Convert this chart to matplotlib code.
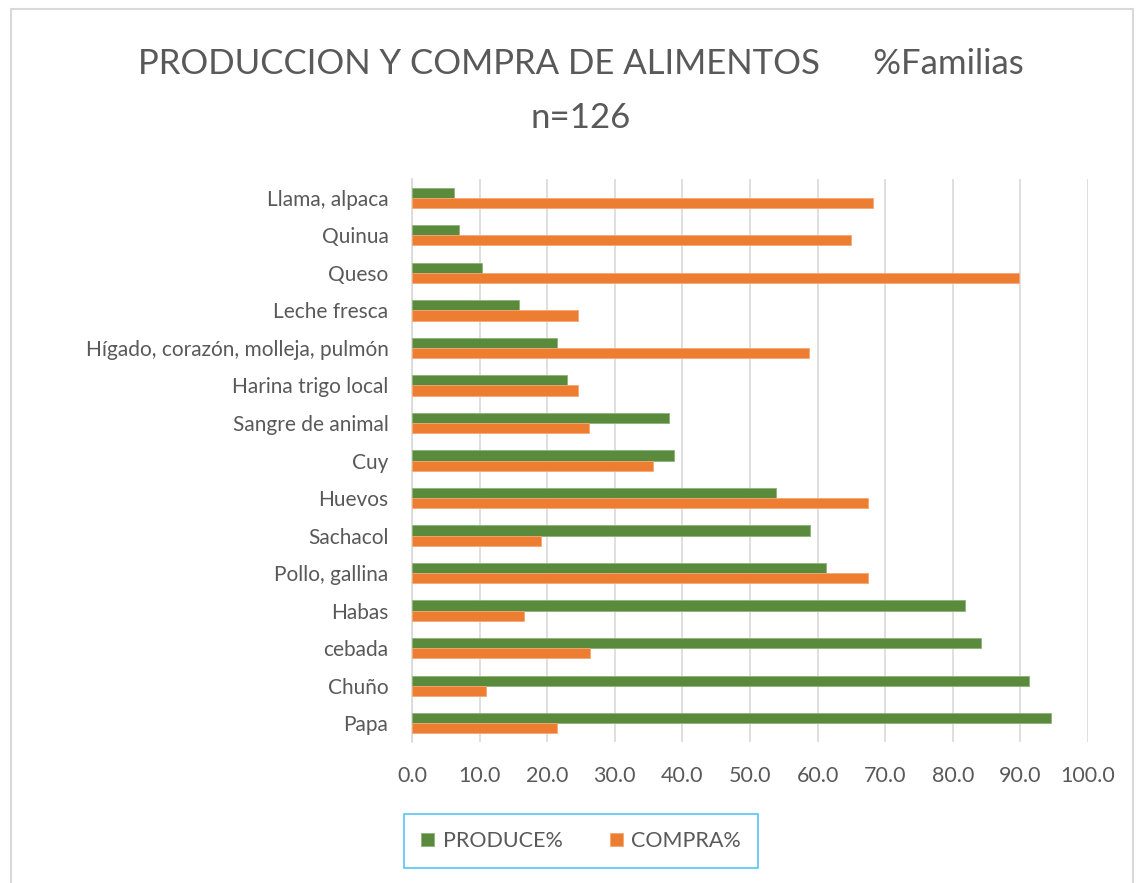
import matplotlib
matplotlib.use("Agg")
import matplotlib.pyplot as plt
import numpy as np
from matplotlib.patches import Rectangle

categories = ["Llama, alpaca", "Quinua", "Queso", "Leche fresca",
              "Hígado, corazón, molleja, pulmón", "Harina trigo local",
              "Sangre de animal", "Cuy", "Huevos", "Sachacol",
              "Pollo, gallina", "Habas", "cebada", "Chuño", "Papa"]
produce = [6.2, 7.0, 10.4, 15.9, 21.5, 22.9, 38.0, 38.8, 53.9, 58.9,
           61.2, 81.8, 84.2, 91.3, 94.5]
compra = [68.2, 64.9, 89.8, 24.6, 58.7, 24.6, 26.2, 35.7, 67.5, 19.1,
          67.5, 16.6, 26.3, 11.0, 21.5]
xticks = [0, 10, 20, 30, 40, 50, 60, 70, 80, 90, 100]

plt.rcParams['font.family'] = ['Lato', 'DejaVu Sans']

W, H = 1142, 883
fig = plt.figure(figsize=(W / 100, H / 100), dpi=100)
fig.patch.set_facecolor("white")

# outer chart border
fig.add_artist(Rectangle((11 / W, -0.01), (1133 - 11) / W, 1 - 9 / H + 0.01,
                         transform=fig.transFigure, fill=False,
                         edgecolor="#D9D9D9", linewidth=1.5))

ax = fig.add_axes([412 / W, 1 - 742 / H, (1088 - 412) / W, (742 - 179) / H])

n = len(categories)
ypos = np.arange(n)
h = 0.27
ax.barh(ypos - h / 2, produce, height=h, color="#5A8A3C", label="PRODUCE%",
        edgecolor="#8DB27A", linewidth=0.6, zorder=3)
ax.barh(ypos + h / 2, compra, height=h, color="#ED7D31", label="COMPRA%",
        edgecolor="#F4A774", linewidth=0.6, zorder=3)

ax.set_ylim(n - 0.5, -0.5)
ax.set_xlim(0, 100)
ax.set_yticks(ypos)
ax.set_yticklabels(categories, fontsize=15, color="#595959")
ax.set_xticks(xticks)
ax.set_xticklabels([f"{v:.1f}" for v in xticks], fontsize=15.5, color="#595959")
ax.tick_params(axis="both", length=0)
ax.tick_params(axis="y", pad=17)
ax.tick_params(axis="x", pad=17)
ax.grid(axis="x", color="#D9D9D9", linewidth=1.2, zorder=0)
for s in ["top", "right", "bottom"]:
    ax.spines[s].set_visible(False)
ax.spines["left"].set_color("#D9D9D9")
ax.spines["left"].set_linewidth(1.2)

fig.text(581 / W, 1 - 64 / H, "PRODUCCION Y COMPRA DE ALIMENTOS      %Familias",
         ha="center", va="center", fontsize=25, color="#595959")
fig.text(581 / W, 1 - 118 / H, "n=126", ha="center", va="center",
         fontsize=25, color="#595959")

leg = fig.legend(loc="center", bbox_to_anchor=(581 / W, 1 - 841 / H),
                 ncol=2, frameon=True, fancybox=False, fontsize=15.5,
                 handlelength=0.6, handleheight=0.6, columnspacing=2.2,
                 borderpad=0.8, handletextpad=0.4, borderaxespad=0)
for t in leg.get_texts():
    t.set_color("#595959")
leg.get_frame().set_edgecolor("#29B6F6")
leg.get_frame().set_linewidth(1.2)

fig.savefig("out.png", dpi=100)
